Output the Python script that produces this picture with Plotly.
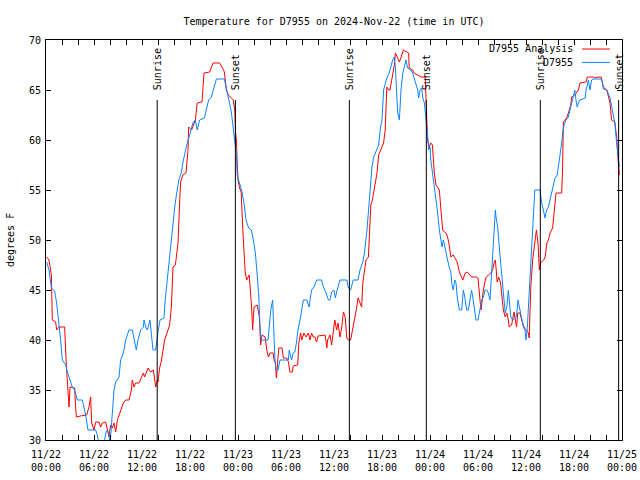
import pandas as pd
import plotly.graph_objects as go

BASE = pd.Timestamp("2024-11-22 00:00")

# D7955 Analysis (red): hours since 2024-11-22 00:00 UTC, temperature degF
analysis_hours = [0.08, 0.375, 0.67, 0.72, 0.79, 1.21, 1.33, 1.625, 2.33, 2.54, 2.75, 2.875, 3.0, 3.58, 3.71, 3.79,
                  4.33, 5.08, 5.375, 5.58, 5.71, 6.0, 6.21, 6.625, 6.83, 7.04, 7.46, 7.67, 7.875, 8.08, 8.29, 8.5,
                  8.71, 8.92, 9.125, 9.33, 9.67, 9.96, 10.375, 10.67, 10.79, 11.0, 11.21, 11.625, 11.92, 12.17,
                  12.33, 12.75, 13.08, 13.42, 13.71, 13.92, 14.0, 14.2, 14.4, 14.6, 14.83, 15.04, 15.46, 15.67,
                  15.875, 16.17, 16.5, 16.7, 16.83, 17.1, 17.5, 17.75, 17.83, 18.2, 18.67, 18.9, 19.5, 19.75,
                  20.46, 20.875, 21.7, 22.0, 22.3, 22.54, 22.8, 23.4, 23.6, 23.7, 23.8, 23.9, 24.0, 24.2, 24.4,
                  24.6, 24.75, 24.9, 25.08, 25.4, 25.7, 25.83, 26.0, 26.4, 26.67, 26.83, 27.0, 27.4, 27.6, 27.8,
                  28.0, 28.4, 28.5, 28.67, 28.8, 29.0, 29.1, 29.5, 29.67, 30.1, 30.3, 30.5, 30.8, 30.9, 31.46,
                  31.6, 31.83, 31.96, 32.25, 32.5, 32.8, 33.0, 33.2, 33.4, 33.6, 33.83, 34.0, 34.9, 35.1, 35.2,
                  35.5, 35.7, 35.9, 36.1, 36.33, 36.5, 36.75, 36.96, 37.17, 37.4, 37.6, 37.8, 38.08, 38.33, 38.6,
                  38.83, 39.0, 39.25, 39.46, 39.6, 39.8, 40.0, 40.3, 40.45, 40.6, 40.8, 40.96, 41.17, 41.375,
                  41.58, 41.8, 42.2, 42.4, 42.6, 42.83, 43.0, 43.54, 43.67, 43.9, 44.17, 44.4, 44.67, 45.33,
                  45.4, 45.83, 46.0, 46.46, 46.875, 47.4, 47.5, 47.58, 47.7, 47.9, 48.1, 48.3, 48.54, 48.75,
                  49.17, 49.4, 49.58, 49.8, 50.0, 50.2, 50.4, 50.6, 50.9, 51.4, 51.67, 52.1, 52.4, 52.67, 53.2,
                  53.8, 54.0, 54.25, 54.375, 54.67, 54.96, 55.3, 55.6, 55.83, 56.0, 56.17, 56.3, 56.4, 56.58,
                  56.83, 57.0, 57.17, 57.4, 57.6, 57.8, 57.9, 58.2, 58.5, 58.6, 58.83, 58.96, 59.25, 59.46,
                  59.75, 60.0, 60.2, 60.3, 60.4, 60.6, 60.83, 61.1, 61.3, 61.5, 61.67, 61.83, 62.2, 62.4, 62.6,
                  62.8, 63.0, 63.33, 63.5, 63.75, 64.46, 64.58, 64.67, 64.875, 65.08, 65.3, 65.6, 65.7, 66.1,
                  66.54, 66.75, 67.5, 67.67, 68.4, 68.6, 69.0, 69.4, 69.67, 70.1, 70.5, 70.7, 71.1, 71.33,
                  71.54, 71.67]
analysis_temp = [48.3, 48.0, 46.5, 44.3, 42.0, 41.8, 41.0, 41.3, 41.3, 37.5, 34.8, 33.3, 35.3, 35.2, 33.2, 32.3,
                 32.4, 32.5, 33.3, 34.3, 31.7, 31.0, 31.8, 31.8, 31.3, 31.7, 31.8, 31.0, 30.3, 31.5, 31.2, 31.7,
                 30.8, 32.0, 32.5, 32.8, 33.7, 34.0, 34.0, 35.0, 36.0, 35.3, 35.7, 35.7, 36.2, 36.7,
                 36.3, 37.2, 36.8, 37.0, 35.3, 36.0, 35.8, 37.2, 37.8, 38.8, 40.0, 40.5, 41.5, 43.3,
                 47.3, 47.5, 49.7, 53.7, 55.8, 56.5, 56.7, 59.0, 61.3, 61.0, 62.0, 63.7, 63.8, 66.7,
                 66.8, 67.7, 67.7, 67.3, 66.8, 65.0, 64.5, 64.0, 63.0, 60.7, 60.0, 57.8, 56.0, 55.2, 54.8,
                 51.0, 49.0, 46.8, 46.0, 46.5, 43.3, 41.0, 43.3, 43.5, 42.3, 39.5, 40.5, 40.3, 39.0, 38.3,
                 38.7, 38.7, 38.0, 37.7, 36.2, 38.0, 39.2, 39.2, 38.2, 38.2, 37.8, 36.8, 36.8, 37.4, 37.5,
                 39.7, 40.7, 40.0, 40.7, 40.3, 40.7, 40.0, 40.7, 40.3, 40.3, 39.8, 40.4, 40.5, 39.2, 40.0,
                 40.5, 39.5, 40.7, 42.0, 41.0, 41.7, 40.3, 41.2, 42.8, 42.3, 40.2, 40.0, 40.0, 41.0, 42.2,
                 43.2, 44.2, 43.8, 43.3, 45.7, 47.0, 48.0, 48.3, 50.3, 53.5, 54.0, 54.7, 55.8, 56.7,
                 58.5, 59.0, 59.7, 61.0, 65.3, 65.0, 65.0, 67.5, 68.7, 68.3, 67.8, 68.3, 69.0, 68.7,
                 67.2, 67.0, 66.7, 66.5, 66.3, 66.3, 63.7, 61.3, 60.0, 59.3, 59.7, 59.5, 56.7, 55.5,
                 55.0, 52.7, 51.0, 50.8, 50.7, 50.3, 49.5, 48.3, 48.5, 47.8, 46.8, 46.0, 46.7, 46.8, 46.3,
                 46.3, 46.2, 44.0, 43.0, 45.0, 46.2, 46.5, 46.7, 47.0, 47.7, 48.0, 46.7, 45.8, 46.3,
                 45.7, 44.3, 43.0, 42.3, 42.7, 42.0, 41.3, 41.5, 42.8, 42.3, 41.3, 42.7, 42.7, 42.0,
                 41.3, 41.0, 40.8, 40.7, 40.2, 45.3, 48.0, 49.7, 51.0, 49.7, 47.0, 47.7, 48.0, 48.3, 49.7,
                 50.0, 50.7, 51.2, 52.7, 54.7, 54.7, 57.3, 61.8, 62.0, 62.2, 62.7, 63.5, 64.3, 64.5,
                 65.0, 65.7, 65.8, 66.3, 66.3, 66.2, 66.3, 66.3, 65.3, 65.0, 63.7, 62.0, 61.8, 60.3,
                 57.7, 56.5]

# D7955 observations (blue)
obs_hours = [0.08, 0.375, 0.67, 1.08, 1.33, 1.625, 1.83, 2.04, 2.46, 2.67, 2.875, 3.29, 3.58, 3.92, 4.54, 4.75,
             4.96, 5.25, 6.21, 6.42, 6.625, 7.25, 7.46, 7.67, 7.875, 8.0, 8.29, 8.5, 8.71, 9.125, 9.33, 9.67,
             9.96, 10.375, 10.79, 11.0, 11.29, 11.5, 11.83, 12.17, 12.25, 12.46, 12.67, 13.0, 13.17, 13.375,
             13.71, 13.92, 14.04, 14.25, 14.75, 14.9, 15.17, 15.3, 15.46, 15.67, 15.875, 16.08, 16.3, 16.6,
             16.9, 17.1, 17.5, 17.96, 18.4, 18.67, 18.9, 19.2, 19.8, 20.04, 20.33, 20.67, 21.0, 21.3, 22.3,
             22.54, 22.83, 23.17, 23.5, 23.8, 23.9, 24.2, 24.5, 24.75, 25.0, 25.33, 25.67, 25.875, 26.17,
             26.4, 26.6, 26.75, 26.9, 27.75, 27.9, 28.1, 28.33, 28.46, 28.6, 28.75, 29.0, 29.25, 30.3, 30.4,
             30.6, 30.7, 30.9, 31.1, 31.3, 31.5, 31.75, 31.96, 32.17, 32.6, 32.9, 33.0, 33.2, 33.5, 33.83,
             34.46, 34.67, 34.96, 35.3, 35.5, 35.7, 36.0, 36.17, 36.33, 36.75, 37.6, 37.8, 38.08, 38.4,
             39.0, 39.25, 39.6, 39.8, 40.1, 40.33, 40.5, 40.75, 40.96, 41.375, 41.58, 41.8, 42.0, 42.2,
             42.4, 42.6, 42.9, 43.33, 43.54, 43.67, 43.83, 43.96, 44.17, 44.375, 44.6, 44.8, 45.0, 45.2,
             45.6, 45.83, 46.0, 46.25, 46.46, 46.58, 46.75, 46.96, 47.1, 47.3, 47.4, 47.5, 47.625, 47.75,
             47.83, 48.0, 48.1, 48.33, 48.54, 48.75, 48.96, 49.17, 49.375, 49.5, 49.67, 49.83, 50.0, 50.2,
             50.4, 50.6, 50.75, 50.9, 51.1, 51.25, 51.4, 51.67, 51.96, 52.17, 52.35, 52.58, 52.8, 53.0,
             53.2, 53.4, 53.6, 53.75, 54.0, 54.25, 54.46, 54.67, 54.875, 55.08, 55.3, 55.5, 55.7, 55.83,
             56.0, 56.17, 56.25, 56.46, 56.67, 56.96, 57.1, 57.4, 57.6, 57.8, 57.9, 58.1, 58.33, 58.8,
             59.0, 59.25, 59.5, 59.67, 59.875, 60.0, 60.15, 60.3, 60.5, 60.7, 60.9, 61.1, 61.75, 61.96,
             62.17, 62.375, 62.58, 62.8, 63.0, 63.2, 63.4, 63.625, 63.9, 64.04, 64.25, 64.46, 64.58, 64.75,
             65.0, 65.3, 65.5, 65.7, 65.9, 66.1, 66.25, 66.4, 66.55, 66.75, 67.4, 67.5, 67.67, 67.8, 68.0,
             68.2, 68.4, 69.46, 69.67, 70.1, 70.5, 70.7, 70.9, 71.1, 71.33, 71.54, 71.67]
obs_temp = [47.8, 47.0, 45.2, 44.9, 43.7, 41.7, 40.0, 38.0, 37.5, 36.8, 36.3, 35.3, 35.0, 34.0, 34.0, 33.3,
            32.5, 31.0, 31.0, 30.5, 29.5, 29.5, 30.7, 31.0, 30.5, 29.5, 33.3, 35.0, 35.8, 36.3, 38.0, 38.7,
            40.0, 41.0, 41.0, 40.0, 39.0, 40.0, 41.0, 41.3, 42.0, 41.3, 41.0, 42.0, 40.3, 39.0,
            39.0, 40.7, 41.0, 42.0, 42.2, 44.0, 46.2, 46.7, 48.0, 49.7, 51.8, 53.2, 54.5, 56.0,
            56.7, 57.7, 59.2, 60.5, 61.8, 62.0, 61.0, 62.0, 62.2, 63.0, 64.0, 64.3, 65.2, 66.1, 66.1,
            65.2, 64.2, 62.8, 60.5, 58.7, 56.5, 55.7, 54.8, 53.7, 52.0, 51.2, 51.0, 50.2, 48.7,
            46.5, 44.3, 41.3, 40.0, 40.0, 41.7, 43.0, 44.0, 41.0, 38.3, 37.0, 37.0, 38.0, 38.0, 39.0,
            38.3, 38.0, 38.7, 38.8, 39.7, 41.0, 42.0, 43.0, 44.0, 44.0, 43.3, 44.0, 45.0, 45.3, 46.0,
            46.0, 45.3, 44.8, 44.0, 44.0, 44.8, 45.0, 44.2, 44.8, 46.0, 46.0, 45.2, 45.0, 46.0,
            46.0, 47.0, 47.8, 48.7, 50.8, 53.0, 55.2, 57.3, 58.3, 59.0, 59.5, 61.2, 62.0, 65.0,
            65.7, 66.2, 66.7, 68.0, 68.3, 67.3, 64.7, 62.7, 62.0, 65.0, 66.7, 67.3, 68.0, 67.2,
            67.0, 66.7, 66.3, 65.7, 65.0, 64.2, 65.0, 65.2, 64.2, 63.7, 63.0, 61.7, 61.2, 60.0,
            59.0, 59.3, 58.0, 56.7, 55.0, 54.0, 52.7, 51.0, 50.0, 49.3, 50.0, 49.3, 48.5, 48.0,
            47.3, 46.8, 45.5, 45.0, 46.0, 45.7, 44.3, 43.0, 43.0, 45.0, 44.3, 43.0, 43.0, 44.0,
            45.0, 44.0, 43.0, 42.0, 42.0, 43.0, 44.0, 44.3, 45.0, 45.0, 44.7, 44.0, 46.7, 48.7,
            51.0, 53.0, 52.3, 51.3, 49.2, 46.7, 45.0, 42.7, 43.3, 45.0, 44.0, 42.3, 42.0, 42.3,
            44.0, 43.0, 41.7, 41.3, 41.0, 40.0, 41.0, 43.3, 47.0, 49.3, 51.8, 55.0, 55.0, 53.7,
            53.0, 52.2, 53.0, 53.3, 54.0, 54.7, 55.5, 56.2, 56.5, 57.2, 58.3, 59.7, 60.7, 61.5,
            62.0, 62.3, 63.0, 63.7, 64.3, 65.0, 64.0, 63.3, 63.7, 64.0, 64.2, 65.0, 65.5, 66.0, 65.0,
            66.0, 66.1, 66.1, 65.1, 65.0, 64.2, 63.3, 62.7, 61.7, 59.7, 58.3, 57.3]

# Sun events (hours since base)
sun_labels = ["Sunrise", "Sunset", "Sunrise", "Sunset", "Sunrise", "Sunset"]
sun_hours = [13.9, 23.67, 37.92, 47.54, 61.79, 71.58]

series_names = ["D7955 Analysis", "D7955"]
series_colors = ["#ff0000", "#0a84ff"]

FONT = "DejaVu Sans Mono"
FIG_W, FIG_H = 640, 480


def to_time(hours):
    return [BASE + pd.Timedelta(hours=h) for h in hours]


fig = go.Figure()
fig.add_trace(go.Scatter(x=to_time(analysis_hours), y=analysis_temp, mode="lines",
                         line=dict(color=series_colors[0], width=1), name=series_names[0]))
fig.add_trace(go.Scatter(x=to_time(obs_hours), y=obs_temp, mode="lines",
                         line=dict(color=series_colors[1], width=1), name=series_names[1]))

for lab, h in zip(sun_labels, sun_hours):
    t = BASE + pd.Timedelta(hours=h)
    fig.add_shape(type="line", xref="x", yref="paper", x0=t, x1=t, y0=0, y1=0.85,
                  line=dict(color="black", width=1))
    fig.add_annotation(x=t, xref="x", y=0.87, yref="paper", text=lab, textangle=-90,
                       showarrow=False, xanchor="center", yanchor="bottom",
                       font=dict(family=FONT, size=10, color="black"))

# legend (gnuplot-style: text then line sample)
leg_y = [0.9775, 0.944]
for name, col, yy in zip(series_names, series_colors, leg_y):
    fig.add_annotation(x=0.919, xref="paper", y=yy, yref="paper", text=name, showarrow=False,
                       xanchor="right", yanchor="middle", font=dict(family=FONT, size=10, color="black"))
    fig.add_shape(type="line", xref="paper", yref="paper", x0=0.9306, x1=0.979, y0=yy, y1=yy,
                  line=dict(color=col, width=1))

fig.add_annotation(x=-0.0625, xref="paper", y=0.5, yref="paper", text="degrees F", textangle=-90,
                   showarrow=False, xanchor="center", yanchor="middle",
                   font=dict(family=FONT, size=10, color="black"))

fig.update_layout(
    width=FIG_W, height=FIG_H,
    margin=dict(l=46, r=18, t=40, b=40, pad=0),
    paper_bgcolor="white", plot_bgcolor="white",
    showlegend=False,
    font=dict(family=FONT, size=10, color="black"),
    title=dict(text="Temperature for D7955 on 2024-Nov-22 (time in UTC)", x=334 / FIG_W,
               xanchor="center", y=1 - 21 / FIG_H, yanchor="middle",
               font=dict(family=FONT, size=10, color="black")),
    xaxis=dict(type="date", range=[BASE, BASE + pd.Timedelta(hours=72)], automargin=False,
               tick0=BASE, dtick=6 * 3600 * 1000, tickformat="%m/%d<br>%H:%M",
               ticks="inside", ticklen=5, tickcolor="black", showline=True, linecolor="black",
               linewidth=1, mirror="allticks", showgrid=False, zeroline=False, ticklabelstandoff=5,
               minor=dict(dtick=2 * 3600 * 1000, ticks="inside", ticklen=5, tickcolor="black",
                          showgrid=False),
               tickfont=dict(family=FONT, size=10, color="black")),
    yaxis=dict(range=[30, 70], dtick=5, ticks="inside", ticklen=5, tickcolor="black", automargin=False,
               showline=True, linecolor="black", linewidth=1, mirror="allticks", showgrid=False,
               zeroline=False, ticklabelstandoff=2, tickfont=dict(family=FONT, size=10, color="black")),
)

fig.write_html("out.html", config={"displayModeBar": False},
               post_script="document.body.style.margin='0';")
